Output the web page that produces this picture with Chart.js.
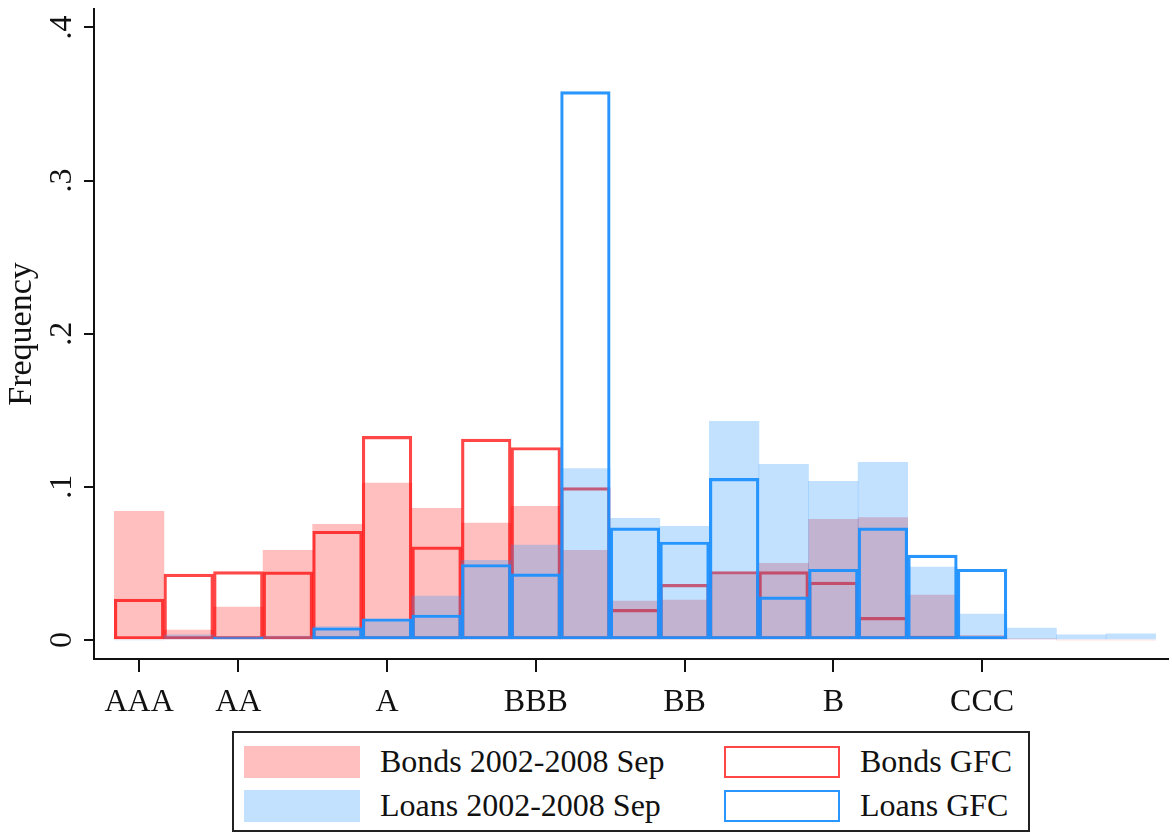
<!DOCTYPE html>
<html>
<head>
<meta charset="utf-8">
<script src="https://cdn.jsdelivr.net/npm/chart.js@4.4.1/dist/chart.umd.min.js"></script>
<style>
  body { margin: 0; background: #fff; }
  #wrap { position: relative; width: 1172px; height: 832px; font-family: "Liberation Serif", serif; }
  #chart { position: absolute; left: 0; top: 0; }
  #legend {
    position: absolute; left: 232px; top: 731px; width: 794px; height: 97px;
    border: 2px solid #222; box-sizing: content-box;
  }
  .item { position: absolute; display: flex; align-items: center; font-size: 32px; color: #111; }
  .sw { width: 116px; height: 32px; margin-right: 20px; box-sizing: border-box; }
</style>
</head>
<body>
<div id="wrap">
  <canvas id="chart" width="1172" height="730"></canvas>
  <div id="legend">
    <div class="item" style="left:10px; top:10px;"><div class="sw" style="background:rgba(255,0,0,0.25)"></div>Bonds 2002-2008 Sep</div>
    <div class="item" style="left:10px; top:54px;"><div class="sw" style="background:rgba(30,144,255,0.27)"></div>Loans 2002-2008 Sep</div>
    <div class="item" style="left:490px; top:10px;"><div class="sw" style="border:2.5px solid rgba(255,0,0,0.72)"></div>Bonds GFC</div>
    <div class="item" style="left:490px; top:54px;"><div class="sw" style="border:2.5px solid rgba(30,144,255,0.95)"></div>Loans GFC</div>
  </div>
</div>
<script>
// rating bins (1 = AAA ... 21)
const bins = [1, 2, 3, 4, 5, 6, 7, 8, 9, 10, 11, 12, 13, 14, 15, 16, 17, 18, 19, 20, 21];

// frequencies
const bondsPre = [0.084, 0.0065, 0.0215, 0.0586, 0.0756, 0.1025, 0.086, 0.0764, 0.0873, 0.0586, 0.0254,
  0.026, 0.0423, 0.050, 0.0788, 0.080, 0.0293, 0.003, 0.0008, 0, 0];
const loansPre = [0, 0.0033, 0.001, 0.0026, 0.0087, 0.0126, 0.0287, 0.052, 0.0619, 0.112, 0.0795,
  0.0743, 0.1427, 0.1147, 0.1036, 0.116, 0.0476, 0.017, 0.0078, 0.0033, 0.004];
const bondsGfc = [0.0267, 0.043, 0.0447, 0.0445, 0.071, 0.133, 0.0608, 0.1312, 0.1257, 0.0995, 0.020,
  0.0363, 0.0447, 0.0447, 0.0378, 0.0148, 0.0026, 0, 0, 0, 0];
const loansGfc = [0, 0, 0.002, 0, 0.008, 0.0139, 0.0163, 0.0493, 0.0432, 0.358, 0.0732,
  0.064, 0.1055, 0.0282, 0.0462, 0.0732, 0.0554, 0.0462, 0, 0, 0];

// axis ticks
const xTickPos = [1, 3, 6, 9, 12, 15, 18];
const xTickLabels = ["AAA", "AA", "A", "BBB", "BB", "B", "CCC"];
const yTickPos = [0, 0.1, 0.2, 0.3, 0.4];
const yTickLabels = ["0", ".1", ".2", ".3", ".4"];

const FONT = '"Liberation Serif", serif';

const toXY = arr => bins.map((b, i) => ({ x: b, y: arr[i] }));

// y tick labels are rotated like in Stata, drawn by hand
const yLabelPlugin = {
  id: "yLabels",
  afterDraw(chart) {
    const ys = chart.scales.y;
    const ctx = chart.ctx;
    ctx.save();
    ctx.font = "32px " + FONT;
    ctx.fillStyle = "#111";
    ctx.textAlign = "center";
    ctx.textBaseline = "middle";
    yTickPos.forEach((v, i) => {
      const py = ys.getPixelForValue(v);
      ctx.save();
      ctx.translate(63, py);
      ctx.rotate(-Math.PI / 2);
      ctx.fillText(yTickLabels[i], 0, 0);
      ctx.restore();
    });
    ctx.restore();
  }
};

new Chart(document.getElementById("chart"), {
  type: "bar",
  data: {
    datasets: [
      { label: "Bonds 2002-2008 Sep", data: toXY(bondsPre), backgroundColor: "rgba(255,0,0,0.25)", borderWidth: 0, order: 4 },
      { label: "Bonds GFC", data: toXY(bondsGfc), backgroundColor: "rgba(0,0,0,0)", borderColor: "rgba(255,0,0,0.72)", borderWidth: 2.5, borderSkipped: false, order: 3 },
      { label: "Loans 2002-2008 Sep", data: toXY(loansPre), backgroundColor: "rgba(30,144,255,0.27)", borderWidth: 0, order: 2 },
      { label: "Loans GFC", data: toXY(loansGfc), backgroundColor: "rgba(0,0,0,0)", borderColor: "rgba(30,144,255,0.95)", borderWidth: 2.5, borderSkipped: false, order: 1 }
    ]
  },
  options: {
    responsive: false,
    animation: false,
    grouped: false,
    barPercentage: 1,
    categoryPercentage: 1,
    layout: { padding: { top: 9, right: 4, left: 0, bottom: 0 } },
    plugins: { legend: { display: false }, tooltip: { enabled: false } },
    scales: {
      x: {
        type: "linear",
        min: 0.09,
        max: 21.75,
        offset: false,
        grid: { display: true, offset: false, drawOnChartArea: false, drawTicks: true, tickLength: 13, color: "#111", lineWidth: 2 },
        border: { display: true, color: "#111", width: 2 },
        afterBuildTicks: s => { s.ticks = xTickPos.map(v => ({ value: v })); },
        afterFit: s => { s.height = 71; },
        ticks: {
          autoSkip: false,
          maxRotation: 0,
          padding: 11,
          color: "#111",
          font: { family: FONT, size: 32 },
          callback: v => xTickLabels[xTickPos.indexOf(v)]
        }
      },
      y: {
        min: -0.0124,
        max: 0.412,
        grid: { display: true, drawOnChartArea: false, drawTicks: true, tickLength: 10, color: "#111", lineWidth: 2 },
        border: { display: true, color: "#111", width: 2 },
        afterBuildTicks: s => { s.ticks = yTickPos.map(v => ({ value: v })); },
        afterFit: s => { s.width = 94; },
        ticks: { display: false },
        title: { display: true, text: "Frequency", color: "#111", font: { family: FONT, size: 34 }, padding: { top: 2, bottom: 0 } }
      }
    }
  },
  plugins: [yLabelPlugin]
});
</script>
</body>
</html>
